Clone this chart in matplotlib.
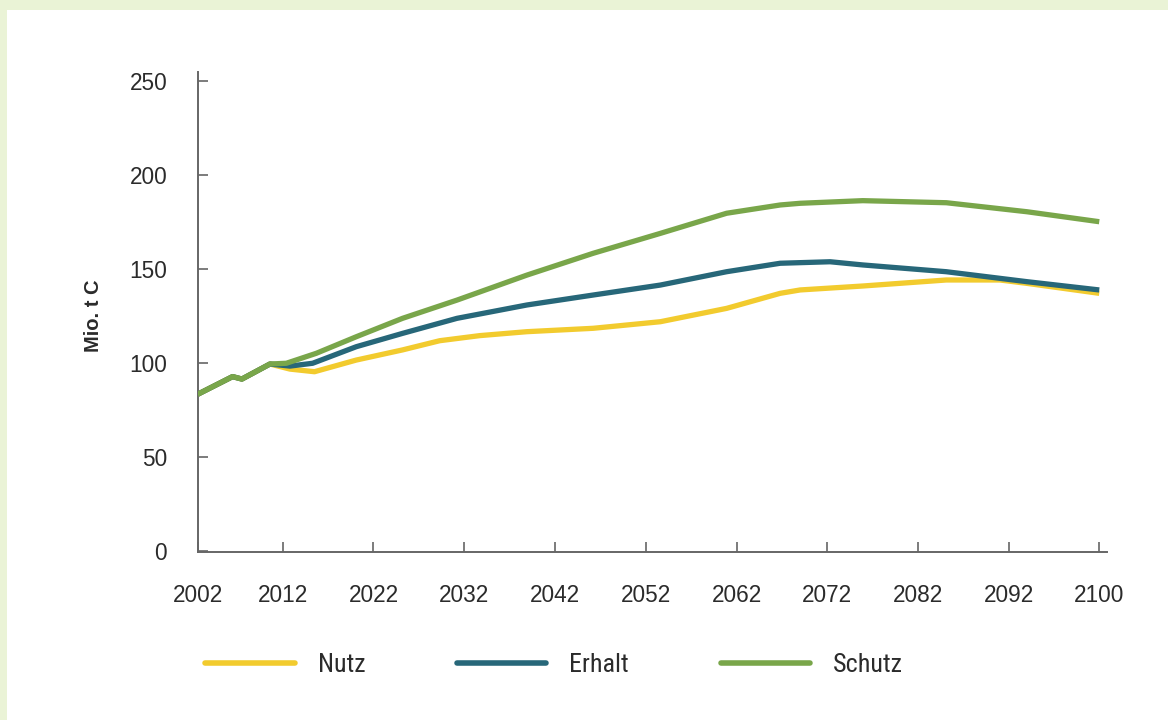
import numpy as np
import matplotlib
matplotlib.use("Agg")
import matplotlib.pyplot as plt
from matplotlib.patches import Rectangle
from matplotlib import font_manager

# ---------------- data ----------------
years_nutz = [2002.0, 2006.1, 2007.2, 2010.5, 2012.8, 2015.5, 2020.1, 2025.2, 2029.3, 2033.7,
              2038.9, 2046.2, 2053.6, 2060.9, 2066.8, 2069.0, 2075.9, 2085.1, 2091.0, 2093.6, 2100.0]
nutz = [83.2, 92.6, 91.3, 99.3, 96.6, 95.2, 101.4, 106.8, 111.7, 114.4,
        116.5, 118.3, 121.8, 128.9, 136.9, 138.7, 140.8, 144.0, 144.0, 142.2, 136.9]

years_erhalt = [2002.0, 2006.1, 2007.2, 2010.5, 2012.8, 2015.3, 2020.1, 2025.2, 2031.2, 2038.9,
                2046.2, 2053.6, 2060.9, 2066.8, 2072.3, 2075.9, 2085.1, 2093.6, 2100.0]
erhalt = [83.2, 92.6, 91.3, 99.3, 98.2, 99.7, 108.5, 115.6, 123.6, 130.7,
          136.0, 141.3, 148.4, 152.9, 153.7, 152.0, 148.4, 143.1, 138.7]

years_schutz = [2002.0, 2006.1, 2007.2, 2010.5, 2012.4, 2015.7, 2020.1, 2025.2, 2031.2, 2038.9,
                2046.2, 2053.6, 2060.9, 2066.8, 2069.0, 2075.9, 2085.1, 2093.6, 2100.0]
schutz = [83.2, 92.6, 91.3, 99.3, 99.7, 105.0, 113.8, 123.6, 133.3, 146.6,
          158.2, 168.8, 179.5, 183.9, 184.8, 186.2, 185.1, 180.3, 175.0]

x_ticks = [2002, 2012, 2022, 2032, 2042, 2052, 2062, 2072, 2082, 2092, 2100]
y_ticks = [0, 50, 100, 150, 200, 250]
series_names = ["Nutz", "Erhalt", "Schutz"]
ylabel = "Mio. t C"

# ---------------- style ----------------
c_nutz = "#f2cb2e"
c_erhalt = "#276779"
c_schutz = "#79a64a"
text_c = "#2b2b2b"
axis_c = "#666666"

avail = {f.name for f in font_manager.fontManager.ttflist}
base_font = "Liberation Sans" if "Liberation Sans" in avail else "DejaVu Sans"
narrow_font = base_font
for cand in ["Liberation Sans Narrow", "Roboto Condensed", "Open Sans Condensed", "DejaVu Sans Condensed"]:
    if cand in avail:
        narrow_font = cand
        break
plt.rcParams["font.family"] = [base_font, "DejaVu Sans"]

# piecewise-linear axis scale (the reference spaces its ticks unevenly)
knot_years = np.array([2002.0, 2012.0, 2092.0, 2100.0])
knot_pos = np.array([0.0, 85.0, 811.3, 901.6])


def fwd(y):
    y = np.asarray(y, dtype=float)
    out = np.interp(y, knot_years, knot_pos)
    lo = y < knot_years[0]
    hi = y > knot_years[-1]
    out = np.where(lo, knot_pos[0] + (y - knot_years[0]) * 8.5, out)
    out = np.where(hi, knot_pos[-1] + (y - knot_years[-1]) * 11.29, out)
    return out


def inv(p):
    p = np.asarray(p, dtype=float)
    out = np.interp(p, knot_pos, knot_years)
    lo = p < knot_pos[0]
    hi = p > knot_pos[-1]
    out = np.where(lo, knot_years[0] + (p - knot_pos[0]) / 8.5, out)
    out = np.where(hi, knot_years[-1] + (p - knot_pos[-1]) / 11.29, out)
    return out


W, H = 1168, 720
fig = plt.figure(figsize=(W / 100, H / 100), dpi=100)
fig.patch.set_facecolor("#eaf3d6")
fig.add_artist(Rectangle((7 / W, 0), 1, 1 - 10 / H, transform=fig.transFigure,
                         facecolor="white", edgecolor="none", zorder=-10))

ax = fig.add_axes([197.7 / W, 1 - 552 / H, (1106.7 - 197.7) / W, (552 - 71.7) / H])
ax.set_facecolor("none")
ax.set_xscale("function", functions=(fwd, inv))

lw = 3.8
ax.plot(years_nutz, nutz, color=c_nutz, lw=lw, solid_capstyle="butt", solid_joinstyle="round", label=series_names[0], zorder=3)
ax.plot(years_erhalt, erhalt, color=c_erhalt, lw=lw, solid_capstyle="butt", solid_joinstyle="round", label=series_names[1], zorder=4)
ax.plot(years_schutz, schutz, color=c_schutz, lw=lw, solid_capstyle="butt", solid_joinstyle="round", label=series_names[2], zorder=5)

ax.set_xlim(2002, 2100.66)
ax.set_ylim(-0.7, 254.8)
ax.set_xticks(x_ticks)
ax.set_xticklabels([str(t) for t in x_ticks])
ax.set_yticks(y_ticks)
ax.minorticks_off()

for s in ["top", "right"]:
    ax.spines[s].set_visible(False)
for s in ["left", "bottom"]:
    ax.spines[s].set_color(axis_c)
    ax.spines[s].set_linewidth(1.4)

ax.tick_params(axis="both", direction="in", length=7, width=1.2, color=axis_c,
               labelsize=16.3, labelcolor=text_c)
ax.tick_params(axis="y", pad=22)
ax.tick_params(axis="x", pad=23)

ax.set_ylabel(ylabel, fontsize=14.5, fontweight="bold", color=text_c)
ax.yaxis.set_label_coords(-0.104, 0.491)

leg = fig.legend(loc="center left", bbox_to_anchor=(182 / W, 1 - 665 / H), ncol=3,
                 frameon=False, handlelength=3.44, handletextpad=0.88, columnspacing=3.54,
                 prop={"family": narrow_font, "size": 18.7})
for line in leg.get_lines():
    line.set_linewidth(4)
    line.set_solid_capstyle("round")
for t in leg.get_texts():
    t.set_color(text_c)

fig.savefig("out.png", dpi=100, facecolor=fig.get_facecolor())
